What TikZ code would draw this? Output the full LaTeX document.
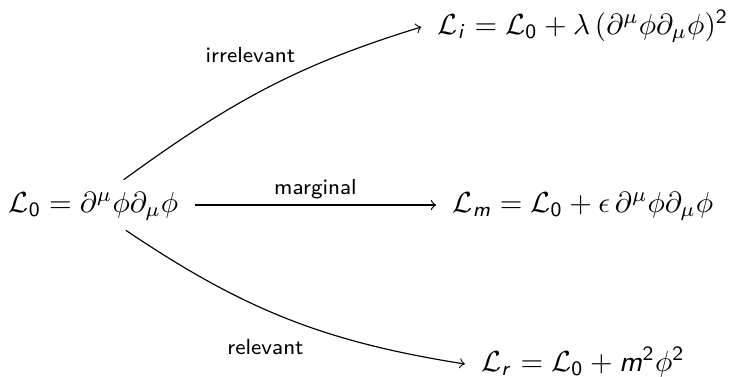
\documentclass[tikz,border=0pt]{standalone}
\DeclareMathAlphabet{\mathssup}{OT1}{cmss}{m}{n}
\DeclareMathAlphabet{\mathssit}{OT1}{cmss}{m}{sl}
\begin{document}
\begin{tikzpicture}[x=0.344pt,y=-0.344pt,
  eq/.style={inner xsep=5.5pt,inner ysep=2pt,text height=9pt,text depth=4pt,font=\normalsize},
  lab/.style={font=\fontsize{7.5}{9}\selectfont\sffamily,inner sep=2pt},
  arr/.style={->,line width=0.4pt}]
\useasboundingbox (0,0) rectangle (731,376);
\node[eq] (l0) at (93.5,205) {$\mathcal{L}_{\mathssup{0}} = \partial^\mu\phi\partial_\mu\phi$};
\node[eq] (lm) at (583,205) {$\mathcal{L}_{\mathssit{m}} = \mathcal{L}_{\mathssup{0}} + \epsilon\,\partial^\mu\phi\partial_\mu\phi$};
\node[eq] (li) at (583,27) {$\mathcal{L}_{\mathssit{i}} = \mathcal{L}_{\mathssup{0}} + \lambda\,(\partial^\mu\phi\partial_\mu\phi)^{\mathssup{2}}$};
\node[eq] (lr) at (583,364) {$\mathcal{L}_{\mathssit{r}} = \mathcal{L}_{\mathssup{0}} + \mathssit{m}^{\mathssup{2}}\phi^{\mathssup{2}}$};
\draw[arr] (l0) -- node[lab,above] {marginal} (lm);
\draw[arr] (l0.40) to[out=36,in=197] node[lab,pos=0.6,anchor=south east,xshift=3pt,yshift=2pt] {irrelevant} (li.west);
\draw[arr] (l0.-38) to[out=-34,in=171] node[lab,pos=0.55,anchor=north east,xshift=2.5pt,yshift=-3pt] {relevant} (lr.west);
\end{tikzpicture}
\end{document}
